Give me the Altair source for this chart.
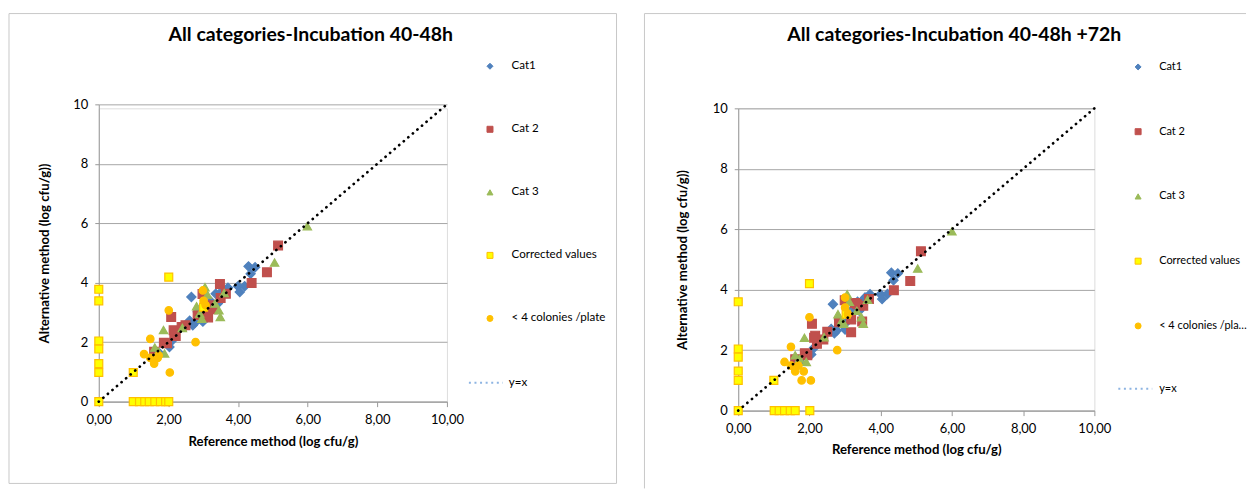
import altair as alt
import pandas as pd

FONT = "Lato"
SERIES = ["Cat1", "Cat 2", "Cat 3", "Corrected values", "< 4 colonies /plate"]
SERIES_IDX = [0, 1, 2, 3, 4]
FILLS = ["#4F81BD", "#C0504D", "#9BBB59", "#FFFF00", "#FFC000"]
STROKES = ["#4F81BD", "#C0504D", "#9BBB59", "#FFC000", "#FFC000"]
SHAPES = ["diamond", "square", "triangle-up", "square", "circle"]
SIZES = [85, 56, 62, 48, 40]
AXIS_TICKS = [0, 2, 4, 6, 8, 10]
LINE_X = [0, 10]
LINE_Y = [0, 10]
LINE_NAME = ["y=x"]

# ---------------- panel A: Incubation 40-48h ----------------
cat1_x_a = [2.66, 2.61, 2.70, 2.76, 2.84, 2.99, 2.03, 2.12, 1.75, 3.22, 3.36, 3.42, 3.51, 3.71, 4.00, 4.05, 4.19, 4.30, 4.36, 4.49, 3.07, 3.56]
cat1_y_a = [3.52, 2.72, 2.57, 2.65, 3.02, 2.69, 1.84, 2.07, 1.62, 3.37, 3.63, 3.30, 3.61, 3.83, 3.88, 3.69, 3.88, 4.55, 4.30, 4.52, 2.96, 3.74]
cat2_x_a = [5.15, 4.83, 4.39, 3.48, 3.50, 2.98, 3.09, 3.19, 3.14, 3.28, 2.08, 2.15, 2.21, 1.87, 1.96, 1.59, 2.38, 2.49, 3.65, 2.84, 2.17]
cat2_y_a = [5.25, 4.35, 3.99, 3.96, 3.49, 3.62, 3.07, 3.24, 2.83, 3.11, 2.85, 2.40, 2.21, 1.98, 1.96, 1.68, 2.51, 2.57, 3.63, 2.91, 2.30]
cat3_x_a = [5.99, 5.05, 3.05, 3.12, 2.81, 2.90, 2.96, 3.34, 3.45, 3.49, 3.60, 1.86, 1.61, 1.71, 1.89, 2.40]
cat3_y_a = [5.90, 4.68, 3.85, 3.60, 3.21, 2.96, 2.79, 3.30, 3.07, 2.85, 3.65, 2.41, 1.82, 1.68, 1.62, 2.48]
corr_x_a = [0, 0, 0, 0, 0, 0, 0, 0.99, 2.01, 3.01, 0.99, 1.17, 1.32, 1.45, 1.61, 1.77, 1.92, 2.01]
corr_y_a = [3.78, 3.39, 2.04, 1.77, 1.28, 0.98, 0, 0.98, 4.19, 3.18, 0, 0, 0, 0, 0, 0, 0, 0]
low_x_a = [2.01, 1.48, 1.30, 1.48, 1.59, 1.69, 2.04, 2.78, 2.99, 3.01, 3.07, 1.72]
low_y_a = [3.07, 2.11, 1.60, 1.47, 1.28, 1.47, 0.98, 2.00, 3.74, 3.39, 3.24, 1.55]

# ---------------- panel B: Incubation 40-48h +72h ----------------
cat1_x_b = [2.66, 2.61, 2.70, 2.77, 2.83, 3.00, 2.05, 2.13, 1.74, 3.21, 3.35, 3.40, 3.53, 3.70, 4.00, 4.04, 4.19, 4.30, 4.36, 4.48, 3.07, 3.56]
cat1_y_b = [3.52, 2.70, 2.56, 2.65, 3.01, 2.68, 1.86, 2.08, 1.61, 3.36, 3.60, 3.30, 3.69, 3.85, 3.85, 3.69, 3.86, 4.56, 4.31, 4.54, 2.96, 3.74]
cat2_x_b = [5.13, 4.83, 4.37, 2.99, 3.28, 3.51, 3.17, 3.17, 3.48, 3.67, 2.07, 2.16, 2.21, 2.13, 1.87, 1.94, 1.60, 2.50, 2.39, 2.83, 3.34]
cat2_y_b = [5.27, 4.29, 3.98, 3.65, 3.56, 3.47, 3.01, 2.59, 2.95, 3.69, 2.87, 2.48, 2.21, 2.41, 1.90, 1.83, 1.70, 2.61, 2.35, 2.92, 3.52]
cat3_x_b = [6.00, 5.04, 3.06, 3.12, 2.80, 2.91, 2.97, 3.33, 3.46, 3.51, 3.63, 1.86, 1.60, 1.72, 1.91, 2.41]
cat3_y_b = [5.93, 4.70, 3.85, 3.60, 3.19, 2.98, 2.87, 3.30, 3.09, 2.87, 3.67, 2.41, 1.83, 1.72, 1.61, 2.43]
corr_x_b = [0, 0, 0, 0, 0, 0, 1.00, 2.00, 3.03, 1.01, 1.15, 1.30, 1.46, 1.60, 2.01]
corr_y_b = [3.60, 2.04, 1.77, 1.31, 1.00, 0, 1.00, 4.20, 3.19, 0, 0, 0, 0, 0, 0]
low_x_b = [2.00, 1.48, 1.30, 1.48, 1.60, 1.69, 1.84, 1.78, 2.04, 2.78, 3.00, 3.00, 3.08]
low_y_b = [3.09, 2.11, 1.61, 1.49, 1.30, 1.49, 1.30, 1.00, 1.00, 2.00, 3.74, 3.41, 3.19]

TITLE_A = "All categories-Incubation 40-48h"
TITLE_B = "All categories-Incubation 40-48h +72h"
X_TITLE = "Reference method (log cfu/g)"
Y_TITLE = "Alternative method (log cfu/g))"


def points_frame(xs_list, ys_list):
    rows = []
    for i, (xs, ys) in enumerate(zip(xs_list, ys_list)):
        for x, y in zip(xs, ys):
            rows.append({"ref": x, "alt": y, "series": SERIES[i], "ord": SERIES_IDX[i]})
    return pd.DataFrame(rows)


def panel(df, title, g):
    leg = dict(title=None, orient="none", legendX=g["lx"], legendY=g["ly"],
               rowPadding=g["rp"], labelOffset=g["lo"], symbolSize=36,
               labelFont=FONT, labelFontSize=g["lfs"], labelColor="#000000",
               padding=0, symbolStrokeWidth=1, labelLimit=g["llim"])
    leg2 = dict(title=None, orient="none", legendX=g["llx"], legendY=g["lly"],
                symbolType="stroke", symbolSize=1156, labelOffset=g["llo"],
                labelFont=FONT, labelFontSize=g["lfs"], labelColor="#000000", padding=0,
                symbolStrokeWidth=2)
    xs = alt.Scale(domain=[0, 10], nice=False, zero=True)
    ys = alt.Scale(domain=[0, 10], nice=False, zero=True, range=[g["h"], g["ytop"]])
    xaxis = alt.Axis(values=AXIS_TICKS, grid=False, title=X_TITLE, labelFlush=False,
                     labelExpr="replace(format(datum.value, '.2f'), '.', ',')",
                     labelFont=FONT, labelFontSize=13, labelColor="#000000",
                     labelPadding=g["xlp"], tickSize=5, tickColor="#9a9a9a",
                     domainColor="#9a9a9a", titleFont=FONT, titleFontSize=13.2,
                     titleFontWeight="bold", titleColor="#000000", titlePadding=g["xtp"])
    yaxis = alt.Axis(values=AXIS_TICKS, grid=True, gridColor="#a6a6a6", title=Y_TITLE,
                     format="d", labelFont=FONT, labelFontSize=13, labelColor="#000000",
                     labelPadding=7, tickSize=4, tickColor="#9a9a9a", domainColor="#9a9a9a",
                     titleFont=FONT, titleFontSize=13.2, titleFontWeight="bold",
                     titleColor="#000000", titlePadding=g["ytp"])

    pts = alt.Chart(df).mark_point(filled=True, opacity=1, strokeWidth=1.2).encode(
        x=alt.X("ref:Q", scale=xs, axis=xaxis),
        y=alt.Y("alt:Q", scale=ys, axis=yaxis),
        fill=alt.Fill("series:N", scale=alt.Scale(domain=SERIES, range=FILLS), legend=alt.Legend(**leg)),
        stroke=alt.Stroke("series:N", scale=alt.Scale(domain=SERIES, range=STROKES), legend=alt.Legend(**leg)),
        shape=alt.Shape("series:N", scale=alt.Scale(domain=SERIES, range=SHAPES), legend=alt.Legend(**leg)),
        size=alt.Size("ord:O", scale=alt.Scale(domain=SERIES_IDX, range=SIZES), legend=None),
        order=alt.Order("ord:Q"),
    )

    line_df = pd.DataFrame({"ref": LINE_X, "alt": LINE_Y, "k": LINE_NAME * 2})
    line = alt.Chart(line_df).mark_line(color="#000000", strokeWidth=2.7, strokeCap="round",
                                        strokeDash=[0.1, 5.9]).encode(
        x=alt.X("ref:Q", scale=xs),
        y=alt.Y("alt:Q", scale=ys),
    )
    # legend entry for the y=x series (shown in the legend only)
    line_key = alt.Chart(line_df).transform_filter("false").mark_line(strokeWidth=2).encode(
        x=alt.X("ref:Q", scale=xs),
        y=alt.Y("alt:Q", scale=ys),
        color=alt.Color("k:N", scale=alt.Scale(domain=LINE_NAME, range=["#8DB4E2"]), legend=alt.Legend(**leg2)),
        strokeDash=alt.StrokeDash("k:N", scale=alt.Scale(domain=LINE_NAME, range=[[2, 3.6]]), legend=alt.Legend(**leg2)),
    )

    layers = []
    if g["full_border"]:
        border = alt.Chart(alt.Data(values=[{"b": 1}])).mark_rect(
            fill="transparent", stroke="#c8c8c8", strokeWidth=1).encode(
            x=alt.value(g["bx1"]), x2=alt.value(g["bx2"]),
            y=alt.value(g["by1"]), y2=alt.value(g["by2"]))
        layers.append(border)
    else:
        top = alt.Chart(alt.Data(values=[{"b": 1}])).mark_rule(stroke="#c8c8c8", strokeWidth=1).encode(
            x=alt.value(g["bx1"]), x2=alt.value(g["bx2"]), y=alt.value(g["by1"]))
        left = alt.Chart(alt.Data(values=[{"b": 1}])).mark_rule(stroke="#c8c8c8", strokeWidth=1).encode(
            x=alt.value(g["bx1"]), y=alt.value(g["by1"]), y2=alt.value(g["by2"]))
        layers += [top, left]
    layers += [pts, line, line_key]
    return alt.layer(*layers).properties(
        width=g["w"], height=g["h"],
        title=alt.TitleParams(title, font=FONT, fontSize=19.5, fontWeight="bold", color="#000000",
                              anchor="middle", frame="group", dx=g["tdx"], offset=g["toff"]),
    )


GA = dict(w=349, h=294, ytop=-4, lx=386.35, ly=-48, rp=50.2, lo=15.8, llim=300, lfs=11.6,
          llx=370, lly=257, llo=5,
          xlp=7.2, xtp=9, ytp=21, bx1=-90, bx2=519, by1=-95, by2=376, full_border=True,
          tdx=38, toff=-32)
GB = dict(w=357, h=303, ytop=0, lx=395.35, ly=-47, rp=52.9, lo=15.6, llim=89, lfs=11,
          llx=380, lly=263, llo=6,
          xlp=6.9, xtp=8.5, ytp=23, bx1=-94, bx2=509, by1=-95, by2=381, full_border=False,
          tdx=38, toff=-32.2)

dfa = points_frame([cat1_x_a, cat2_x_a, cat3_x_a, corr_x_a, low_x_a],
                   [cat1_y_a, cat2_y_a, cat3_y_a, corr_y_a, low_y_a])
dfb = points_frame([cat1_x_b, cat2_x_b, cat3_x_b, corr_x_b, low_x_b],
                   [cat1_y_b, cat2_y_b, cat3_y_b, corr_y_b, low_y_b])

chart = alt.concat(panel(dfa, TITLE_A, GA), panel(dfb, TITLE_B, GB),
                   columns=2, spacing=26).resolve_scale(
    x="independent", y="independent", fill="independent", stroke="independent",
    shape="independent", size="independent", strokeDash="independent", color="independent",
).resolve_legend(fill="independent", stroke="independent", shape="independent",
                 size="independent", strokeDash="independent", color="independent").properties(
    padding={"left": 0, "top": 4, "right": 0, "bottom": 0},
).configure_view(strokeWidth=0).configure(background="#ffffff")

chart.save("out.html", embed_options={"renderer": "svg", "actions": False})
